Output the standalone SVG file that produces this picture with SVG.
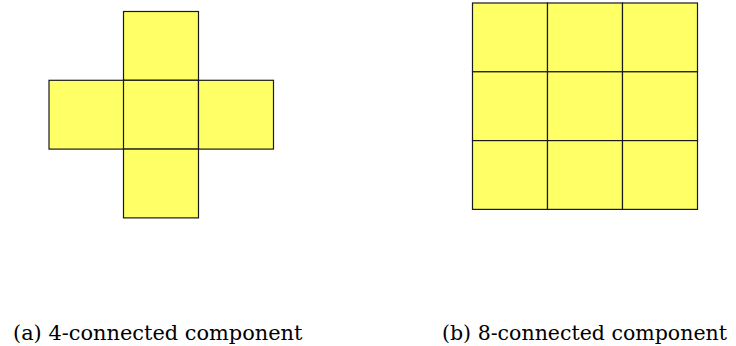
<svg xmlns="http://www.w3.org/2000/svg" width="736" height="346" viewBox="0 0 736 346">
  <style>
    .cell { fill: #ffff66; stroke: #1a1a1a; stroke-width: 1.2; }
    .cap { fill: #000; }
  </style>
  <defs>
    <rect id="sq" class="cell" width="75" height="68.8"/>
  </defs>
  <rect width="736" height="346" fill="#fff"/>

  <!-- (a) 4-connected neighbourhood: plus shape -->
  <g id="four-connected">
    <g id="a-top"><use href="#sq" x="123.5" y="11.5"/></g>
    <g id="a-left"><use href="#sq" x="49" y="80.3"/></g>
    <g id="a-center"><use href="#sq" x="123.5" y="80.3"/></g>
    <g id="a-right"><use href="#sq" x="198.5" y="80.3"/></g>
    <g id="a-bottom"><use href="#sq" x="123.5" y="149.1"/></g>
  </g>

  <!-- (b) 8-connected neighbourhood: full 3x3 block -->
  <g id="eight-connected">
    <g id="b-r0c0"><use href="#sq" x="472.5" y="3"/></g>
    <g id="b-r0c1"><use href="#sq" x="547.5" y="3"/></g>
    <g id="b-r0c2"><use href="#sq" x="622.5" y="3"/></g>
    <g id="b-r1c0"><use href="#sq" x="472.5" y="71.8"/></g>
    <g id="b-r1c1"><use href="#sq" x="547.5" y="71.8"/></g>
    <g id="b-r1c2"><use href="#sq" x="622.5" y="71.8"/></g>
    <g id="b-r2c0"><use href="#sq" x="472.5" y="140.6"/></g>
    <g id="b-r2c1"><use href="#sq" x="547.5" y="140.6"/></g>
    <g id="b-r2c2"><use href="#sq" x="622.5" y="140.6"/></g>
  </g>

  <g id="connectors"/>

  <!-- sub-figure captions -->
  <text class="cap" font-family="'DejaVu Serif', serif" font-size="20.9" x="13" y="340">(a) 4-connected component</text>
  <text class="cap" font-family="'DejaVu Serif', serif" font-size="20.5" x="442" y="340">(b) 8-connected component</text>
</svg>
